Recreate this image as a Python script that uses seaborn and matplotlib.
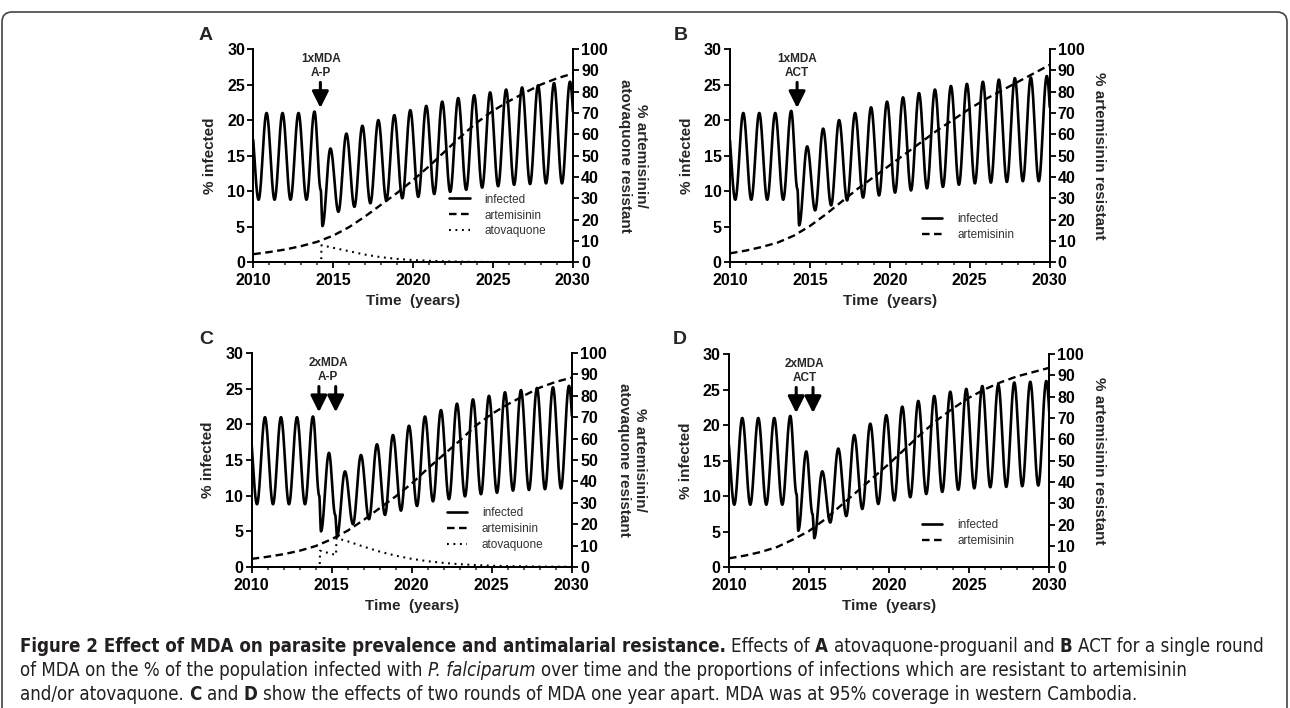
import numpy as np
import pandas as pd
import matplotlib
matplotlib.use("Agg")
import matplotlib.pyplot as plt
import seaborn as sns
from matplotlib.lines import Line2D
from matplotlib.patches import FancyBboxPatch
from matplotlib.ticker import MultipleLocator
from matplotlib.transforms import IdentityTransform
from matplotlib import font_manager

# ---------------- data ----------------
years = list(range(2010, 2031))

# % infected: peaks at x.83 (first one 2009.83, just left of the axis),
# troughs at x.33 (last one 2030.33, just right of the axis)
a_peaks = [20.0, 21.0, 21.0, 21.0, 21.2, 16.0, 18.1, 19.2, 20.0, 20.7, 21.4,
           22.0, 22.6, 23.1, 23.5, 23.9, 24.3, 24.6, 24.9, 25.2, 25.4]
a_troughs = [8.8, 8.8, 8.8, 8.8, 5.1, 7.1, 7.8, 8.3, 8.7, 9.0, 9.2,
             9.6, 9.9, 10.2, 10.5, 10.7, 10.9, 11.0, 11.1, 11.1, 11.2]
a_shoulders = [(2014.22, 10.2)]

b_peaks = [20.0, 21.0, 21.0, 21.0, 21.3, 16.3, 18.8, 20.0, 21.0, 21.8, 22.6,
           23.2, 23.8, 24.3, 24.8, 25.1, 25.4, 25.7, 25.9, 26.0, 26.2]
b_troughs = [8.8, 8.8, 8.8, 8.8, 5.2, 7.3, 8.0, 8.7, 9.1, 9.4, 9.8,
             10.1, 10.4, 10.6, 10.9, 11.1, 11.2, 11.3, 11.4, 11.4, 11.5]
b_shoulders = [(2014.22, 10.3)]

c_peaks = [20.0, 21.0, 21.0, 21.0, 21.1, 16.0, 13.4, 15.7, 17.2, 18.5, 19.8,
           21.1, 22.0, 22.9, 23.5, 24.0, 24.5, 24.8, 25.1, 25.2, 25.4]
c_troughs = [8.8, 8.8, 8.8, 8.8, 5.0, 4.2, 6.0, 6.7, 7.3, 7.9, 8.55,
             9.2, 9.5, 9.9, 10.2, 10.4, 10.7, 10.8, 10.9, 11.0, 11.1]
c_shoulders = [(2014.22, 10.0), (2015.22, 7.3)]

d_peaks = [20.0, 21.0, 21.0, 21.0, 21.3, 16.3, 13.5, 16.7, 18.6, 20.2, 21.4,
           22.6, 23.4, 24.1, 24.7, 25.1, 25.5, 25.7, 26.0, 26.1, 26.2]
d_troughs = [8.8, 8.8, 8.8, 8.8, 5.15, 4.1, 6.3, 7.2, 8.2, 8.9, 9.4,
             9.85, 10.3, 10.6, 10.9, 11.1, 11.25, 11.3, 11.4, 11.5, 11.5]
d_shoulders = [(2014.22, 10.3), (2015.22, 7.5)]

# % artemisinin resistant, one value per year 2010..2030
a_art = [3.8, 4.8, 6.0, 7.6, 9.6, 12.5, 16.5, 21.5, 27.0, 32.5, 38.5,
         45.0, 52.0, 59.0, 65.5, 71.0, 75.5, 79.5, 83.3, 86.2, 88.5]
b_art = [4.2, 5.5, 7.2, 9.3, 12.5, 17.0, 22.5, 28.5, 34.5, 40.0, 45.5,
         51.0, 56.5, 62.0, 67.0, 72.0, 76.5, 80.5, 84.5, 88.5, 92.5]
c_art = [3.8, 4.8, 6.0, 7.6, 9.8, 13.0, 17.0, 22.0, 27.5, 33.0, 39.0,
         46.0, 52.5, 59.0, 66.0, 71.5, 76.0, 80.0, 83.8, 86.5, 88.5]
d_art = [4.2, 5.5, 7.2, 9.5, 13.0, 17.0, 22.5, 29.0, 35.5, 42.0, 48.5,
         55.5, 62.5, 69.0, 74.5, 79.5, 83.5, 86.8, 89.5, 91.5, 93.5]

# % atovaquone resistant (A-P panels only)
a_ato_t = [2010, 2014.25, 2014.27, 2015, 2016, 2017, 2018, 2019, 2020, 2021,
           2022, 2023, 2024, 2026, 2028, 2030]
a_ato_v = [0, 0, 8.0, 6.8, 5.2, 3.6, 2.4, 1.6, 1.05, 0.7,
           0.45, 0.3, 0.2, 0.1, 0.05, 0.02]
c_ato_t = [2010, 2014.25, 2014.27, 2015.27, 2015.3, 2016, 2017, 2018, 2019,
           2020, 2021, 2022, 2023, 2024, 2025, 2026, 2028, 2030]
c_ato_v = [0, 0, 7.6, 5.6, 13.5, 12.0, 9.5, 7.2, 5.3,
           3.8, 2.7, 1.9, 1.3, 0.9, 0.6, 0.4, 0.2, 0.1]

panel_letters = ["A", "B", "C", "D"]
mda_labels = ["1xMDA\nA-P", "1xMDA\nACT", "2xMDA\nA-P", "2xMDA\nACT"]
mda_rounds = [[2014.2], [2014.2], [2014.2, 2015.25], [2014.2, 2015.25]]
right_labels = ["% artemisinin/\natovaquone resistant", "% artemisinin resistant",
                "% artemisinin/\natovaquone resistant", "% artemisinin resistant"]
legend_labels = ["infected", "artemisinin", "atovaquone"]


def wave(peaks, troughs, shoulders):
    # join the read extrema with half-cosine strokes
    pts = []
    for k in range(len(peaks)):
        pts.append((2009.83 + k, peaks[k]))
        pts.append((2010.33 + k, troughs[k]))
    pts = sorted(pts + shoulders)
    t, v = [], []
    s = np.linspace(0, 1, 30, endpoint=False)
    for (t0, v0), (t1, v1) in zip(pts[:-1], pts[1:]):
        t.extend(t0 + (t1 - t0) * s)
        v.extend(v0 + (v1 - v0) * (1 - np.cos(np.pi * s)) / 2)
    t.append(pts[-1][0])
    v.append(pts[-1][1])
    return pd.DataFrame({"t": t, "v": v})


sns.set_style("ticks")
plt.rcParams["font.family"] = ["Liberation Sans", "DejaVu Sans"]
plt.rcParams["font.weight"] = "bold"
plt.rcParams["axes.labelweight"] = "bold"

W, H = 1290, 708
fig = plt.figure(figsize=(W / 100, H / 100), dpi=100)

# axes boxes in pixels: left, top, right, bottom
boxes = [(253.3, 49, 572.7, 262.3), (730, 49, 1049.5, 262.3),
         (251.7, 353, 571.7, 567), (729, 354, 1049, 567.3)]
letter_pos = [(206, 36), (681, 36), (206, 340), (680, 340)]
legend_pos = [(0.613, 0.322), (0.60, 0.23), (0.609, 0.28), (0.602, 0.226)]
mda_text_x = [2014.25, 2014.2, 2014.77, 2014.72]

panels = [
    (a_peaks, a_troughs, a_shoulders, a_art, a_ato_t, a_ato_v),
    (b_peaks, b_troughs, b_shoulders, b_art, None, None),
    (c_peaks, c_troughs, c_shoulders, c_art, c_ato_t, c_ato_v),
    (d_peaks, d_troughs, d_shoulders, d_art, None, None),
]

dash_art = (0, (3.2, 1.9))
dot_ato = (0, (0.9, 2.2))

for i, (peaks, troughs, shoulders, art, ato_t, ato_v) in enumerate(panels):
    l, t, r, b = boxes[i]
    ax = fig.add_axes([l / W, 1 - b / H, (r - l) / W, (b - t) / H])
    ax2 = ax.twinx()

    inf = wave(peaks, troughs, shoulders)
    sns.lineplot(data=inf, x="t", y="v", ax=ax, color="black", lw=1.9,
                 estimator=None, sort=False)
    art_df = pd.DataFrame({"t": years, "v": art})
    sns.lineplot(data=art_df, x="t", y="v", ax=ax2, color="black", lw=1.7,
                 estimator=None)
    ax2.lines[-1].set_linestyle(dash_art)
    handles = [Line2D([], [], color="black", lw=1.9),
               Line2D([], [], color="black", lw=1.7, ls=dash_art)]
    if ato_t is not None:
        ato_df = pd.DataFrame({"t": ato_t, "v": ato_v})
        sns.lineplot(data=ato_df, x="t", y="v", ax=ax2, color="black", lw=1.5,
                     estimator=None, sort=False)
        ax2.lines[-1].set_linestyle(dot_ato)
        handles.append(Line2D([], [], color="black", lw=1.5, ls=dot_ato))

    ax.set_xlim(2010, 2030)
    ax.set_ylim(0, 30)
    ax2.set_ylim(0, 100)
    ax.xaxis.set_major_locator(MultipleLocator(5))
    ax.xaxis.set_minor_locator(MultipleLocator(1))
    ax.yaxis.set_major_locator(MultipleLocator(5))
    ax2.yaxis.set_major_locator(MultipleLocator(10))
    for a in (ax, ax2):
        a.spines["top"].set_visible(False)
        for sp in ("left", "right", "bottom"):
            a.spines[sp].set_linewidth(1.3)
            a.spines[sp].set_color("black")
    ax.tick_params(axis="both", which="major", length=4.5, width=1.3,
                   labelsize=11.5, pad=1.5, colors="black")
    ax.tick_params(axis="x", which="major", pad=3.5)
    ax.tick_params(axis="x", which="minor", length=2.5, width=1.1)
    ax2.tick_params(axis="y", which="major", length=4.5, width=1.3,
                    labelsize=11.5, pad=1.5, colors="black")

    ax.set_xlabel("Time  (years)", fontsize=11, labelpad=4)
    ax.set_ylabel("")
    ax2.set_ylabel("")
    ax.text(-0.1356, 0.5, "% infected", transform=ax.transAxes, rotation=90,
            ha="center", va="center", fontsize=11)
    rx = 1.189 if "\n" in right_labels[i] else 1.155
    ax2.text(rx, 0.5, right_labels[i], transform=ax2.transAxes, rotation=270,
             ha="center", va="center", fontsize=11, multialignment="center",
             linespacing=1.15)

    # MDA annotation and arrows
    ax2.text(mda_text_x[i], 27.6 * 10 / 3, mda_labels[i], ha="center",
             va="center", fontsize=8.5, linespacing=1.3)
    for xm in mda_rounds[i]:
        ax.annotate("", xy=(xm, 21.7), xytext=(xm, 25.3),
                    arrowprops=dict(arrowstyle="-|>,head_width=0.5,head_length=1.0",
                                    color="black", lw=2.2, mutation_scale=10,
                                    shrinkA=0, shrinkB=0))

    ax2.legend(handles, legend_labels[:len(handles)], loc="upper left",
               bbox_to_anchor=legend_pos[i], frameon=False,
               prop={"size": 8.5, "weight": "normal"}, labelcolor="#333333",
               handlelength=1.75, handletextpad=1.25, labelspacing=0.33,
               borderpad=0, borderaxespad=0)

    lx, ly = letter_pos[i]
    fig.text(lx / W, 1 - ly / H, panel_letters[i], ha="center", va="center",
             fontsize=14)

# rounded frame round the figure
frame = FancyBboxPatch((2, -40), 1285, H - 12 + 40,
                       boxstyle="round,pad=0,rounding_size=10",
                       transform=IdentityTransform(), fill=False,
                       edgecolor="#444444", lw=1.2)
fig.add_artist(frame)

# ---------------- caption ----------------
# narrowest installed face for the condensed caption type
cap_font, cap_stretch = "Liberation Sans", "normal"
for f in font_manager.fontManager.ttflist:
    if f.name == "Liberation Sans Narrow":
        cap_font, cap_stretch = "Liberation Sans Narrow", "normal"
        break
    if f.name == "DejaVu Sans" and f.stretch == "condensed":
        cap_font, cap_stretch = "DejaVu Sans", "condensed"

caption = [
    [("Figure 2 Effect of MDA on parasite prevalence and antimalarial resistance.", "bold", "normal"),
     (" Effects of ", "normal", "normal"), ("A", "bold", "normal"),
     (" atovaquone-proguanil and ", "normal", "normal"), ("B", "bold", "normal"),
     (" ACT for a single round", "normal", "normal")],
    [("of MDA on the % of the population infected with ", "normal", "normal"),
     ("P. falciparum", "normal", "italic"),
     (" over time and the proportions of infections which are resistant to artemisinin", "normal", "normal")],
    [("and/or atovaquone. ", "normal", "normal"), ("C", "bold", "normal"),
     (" and ", "normal", "normal"), ("D", "bold", "normal"),
     (" show the effects of two rounds of MDA one year apart. MDA was at 95% coverage in western Cambodia.", "normal", "normal")],
]
cap_y = [646, 670, 694]

renderer = fig.canvas.get_renderer()


def cap_text(x, y, s, wt, st, size):
    return fig.text(x, y, s, fontsize=size, fontweight=wt, fontstyle=st,
                    family=cap_font, fontstretch=cap_stretch, color="#231f20",
                    va="center", ha="left", transform=IdentityTransform())


def text_w(s, wt, st, size):
    tt = cap_text(0, 0, s, wt, st, size)
    w = tt.get_window_extent(renderer).width
    tt.remove()
    return w


def line_width(parts, size):
    total = 0
    for s, wt, st in parts:
        sp = text_w("x x", wt, st, size) - text_w("xx", wt, st, size)
        total += (len(s) - len(s.lstrip()) + len(s) - len(s.rstrip())) * sp
        total += text_w(s.strip(), wt, st, size)
    return total


cap_size = 12 * 1242 / line_width(caption[0], 12)

for parts, yy in zip(caption, cap_y):
    x = 20
    for s, wt, st in parts:
        sp = text_w("x x", wt, st, cap_size) - text_w("xx", wt, st, cap_size)
        x += (len(s) - len(s.lstrip())) * sp
        tt = cap_text(x, H - yy, s.strip(), wt, st, cap_size)
        x += tt.get_window_extent(renderer).width
        x += (len(s) - len(s.rstrip())) * sp

fig.savefig("out.png", dpi=100)
